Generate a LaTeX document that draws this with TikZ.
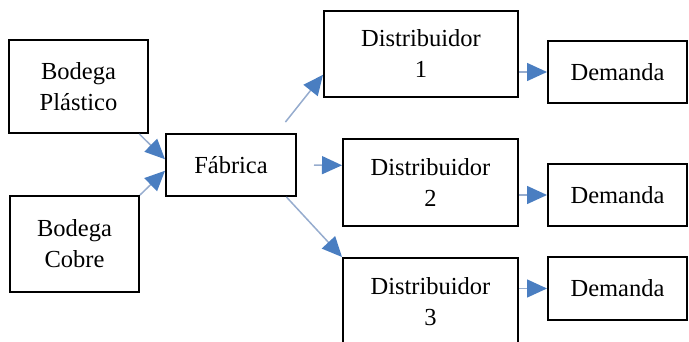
\documentclass[tikz,border=0pt]{standalone}
\usepackage{fontspec}
\setmainfont{Liberation Serif}
\usetikzlibrary{arrows.meta}
\definecolor{linegray}{RGB}{150,172,206}
\definecolor{tipblue}{RGB}{74,126,193}
\begin{document}
\begin{tikzpicture}[x=1pt,y=-1pt,
    box/.style={draw, line width=2pt, align=center, inner sep=0pt,
        font=\fontsize{24.5}{31}\selectfont},
    arr/.style={draw=linegray, line width=1.5pt,
        -{Triangle[length=20pt,width=18pt,color=tipblue]}}]
    \useasboundingbox (0,0) rectangle (689,342);
    \node[box, minimum width=139, minimum height=93] (plastico) at (78.5,86.5) {Bodega\\Plástico};
    \node[box, minimum width=129, minimum height=96] (cobre) at (74.5,244) {Bodega\\Cobre};
    \node[box, minimum width=130, minimum height=62] (fabrica) at (231,165) {Fábrica};
    \node[box, minimum width=194, minimum height=86] (dist1) at (421,54) {Distribuidor\\1};
    \node[box, minimum width=175, minimum height=87] (dist2) at (430.5,182.5) {Distribuidor\\2};
    \node[box, minimum width=175, minimum height=87] (dist3) at (430.5,301.5) {Distribuidor\\3};
    \node[box, minimum width=139, minimum height=62] (dem1) at (617.5,72) {Demanda};
    \node[box, minimum width=139, minimum height=62] (dem2) at (617.5,195) {Demanda};
    \node[box, minimum width=139, minimum height=62] (dem3) at (617.5,288.5) {Demanda};
    \draw[arr] (plastico.-38) -- (fabrica.175);
    \draw[arr] (cobre.north east) -- (fabrica.185);
    \draw[arr, shorten <=14pt] (fabrica.35) -- (dist1.192);
    \draw[arr, shorten <=17pt] (fabrica.east) -- (dist2.169);
    \draw[arr] (fabrica.-30) -- (dist3.north west);
    \draw[arr] (dist1.east |- dem1) -- (dem1.west);
    \draw[arr] (dist2.east |- dem2) -- (dem2.west);
    \draw[arr] (dist3.east |- dem3) -- (dem3.west);
\end{tikzpicture}
\end{document}
